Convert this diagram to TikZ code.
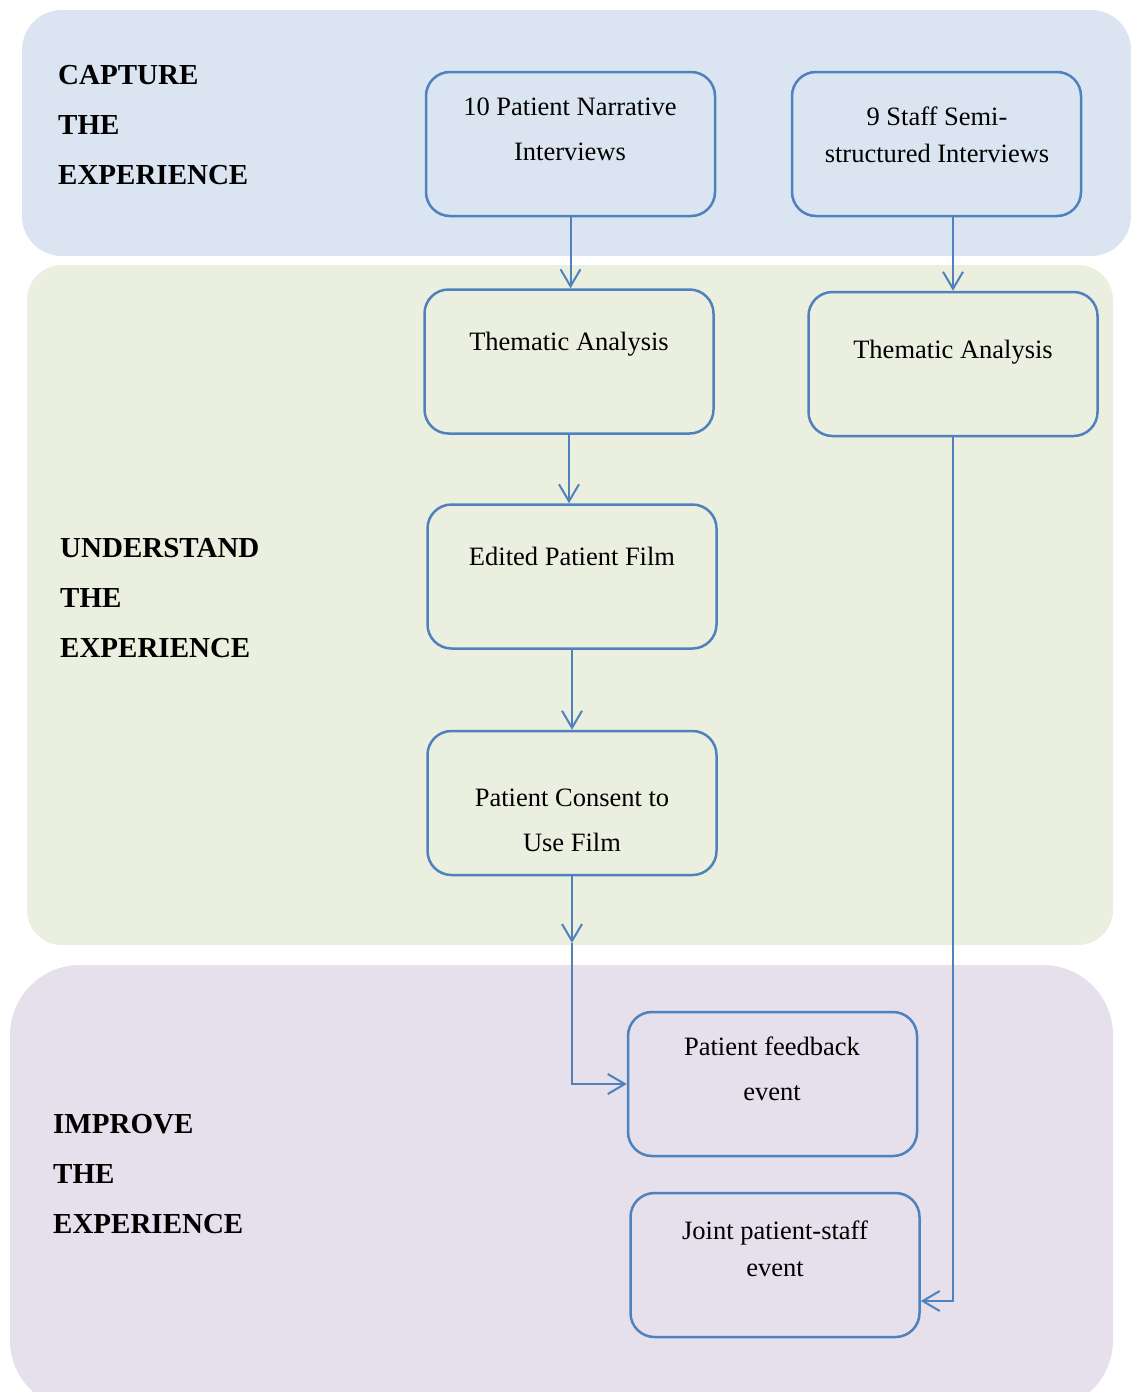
\documentclass[tikz,border=0pt]{standalone}
\usepackage{fontspec}
\setmainfont{Liberation Serif}
\usetikzlibrary{arrows.meta}
\definecolor{bandblue}{HTML}{DBE5F1}
\definecolor{bandgreen}{HTML}{EBEFDF}
\definecolor{bandlilac}{HTML}{E5E0EC}
\definecolor{edge}{HTML}{4F81BD}
\begin{document}
\begin{tikzpicture}[x=1pt,y=-1pt,
  card/.style={draw=edge, line width=2.5pt, rounded corners=24pt,
    minimum width=289pt, minimum height=144pt, inner sep=0pt},
  body/.style={font=\fontsize{26.5}{45}\selectfont, align=center,
    inner sep=0pt, anchor=base},
  tight/.style={font=\fontsize{26.5}{37}\selectfont},
  heading/.style={font=\fontsize{29}{50}\selectfont\bfseries, align=left,
    inner sep=0pt, anchor=base west},
  flow/.style={draw=edge, line width=2pt,
    -{Straight Barb[length=17pt,width=20pt]}}]
\clip (0,0) rectangle (1131,1392);

% three phase bands
\fill[bandblue, rounded corners=40pt] (22,10) rectangle (1131,256);
\fill[bandgreen, rounded corners=35pt] (27,265) rectangle (1113,945);
\fill[bandlilac, rounded corners=70pt] (10,965) rectangle (1113,1410);

% phase headings (placed at the baseline of their last line)
\node[heading] (h1) at (58,184) {CAPTURE\\THE\\EXPERIENCE};
\node[heading] (h2) at (60,657) {UNDERSTAND\\THE\\EXPERIENCE};
\node[heading] (h3) at (53,1233) {IMPROVE\\THE\\EXPERIENCE};

% process boxes
\node[card] (b1) at (570.5,144) {};
\node[card] (b2) at (936.5,144) {};
\node[card] (b3) at (569,361.5) {};
\node[card] (b4) at (953,364) {};
\node[card] (b5) at (572,576.5) {};
\node[card] (b6) at (572,803) {};
\node[card] (b7) at (772.5,1084) {};
\node[card] (b8) at (775,1265) {};

% box texts (placed at the baseline of their last line)
\node[body] (t1) at (570,160) {10 Patient Narrative\\Interviews};
\node[body,tight] (t2) at (937,162) {9 Staff Semi-\\structured Interviews};
\node[body] (t3) at (569,350) {Thematic Analysis};
\node[body] (t4) at (953,358) {Thematic Analysis};
\node[body] (t5) at (572,565) {Edited Patient Film};
\node[body] (t6) at (572,851) {Patient Consent to\\Use Film};
\node[body] (t7) at (772,1100) {Patient feedback\\event};
\node[body,tight] (t8) at (775,1276) {Joint patient-staff\\event};

% connectors
\coordinate (mid) at (572,943);
\draw[flow] (b1.south) -- (b1.south |- b3.north);
\draw[flow] (b4.north |- b2.south) -- (b4.north);
\draw[flow] (b3.south) -- (b3.south |- b5.north);
\draw[flow] (b5.south) -- (b6.north);
\draw[flow] (b6.south) -- (mid);
\draw[flow] (mid) |- (b7.west);
\draw[flow] (b4.south) |- ([yshift=-36pt]b8.east);
\end{tikzpicture}
\end{document}
